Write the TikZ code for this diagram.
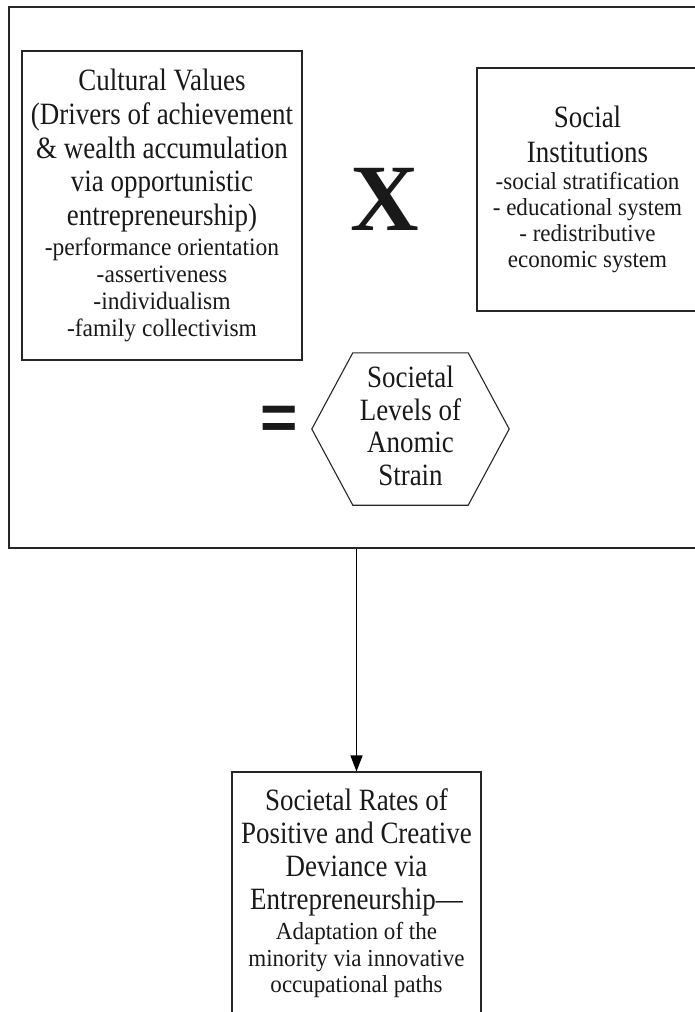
\documentclass[tikz,border=0pt]{standalone}
\usepackage{fontspec}
\setmainfont{Liberation Serif}
\newfontfamily\condserif[FakeStretch=0.87]{Liberation Serif}
\newfontfamily\smserif[FakeStretch=0.94]{Liberation Serif}
\newfontfamily\eqfont{Liberation Sans}
\usetikzlibrary{arrows.meta}
\newcommand\sml[2]{{\smserif\fontsize{#1}{#1}\selectfont #2}}
\tikzset{
  boxline/.style={draw=black!85, line width=1.1pt},
  txt/.style={align=center, inner sep=0pt, text=black!90},
  bigtext/.style={font=\condserif\fontsize{31}{#1}\selectfont},
}
\begin{document}
\begin{tikzpicture}[x=1pt,y=-1pt]
\useasboundingbox (0,0) rectangle (694,1012);
% outer frame
\node[boxline, minimum width=693pt, minimum height=541pt, inner sep=0pt] (frame) at (355.5,277.5) {};
% cultural values
\node[boxline, txt, bigtext=33.75, minimum width=280pt, minimum height=309pt] (cv) at (162,205.5)
 {Cultural Values\\
  (Drivers of achievement\\
  \& wealth accumulation\\
  via opportunistic\\
  entrepreneurship)\\[-3.75pt]
  \sml{25}{-performance orientation}\\[-6.75pt]
  \sml{25}{-assertiveness}\\[-6.75pt]
  \sml{25}{-individualism}\\[-6.75pt]
  \sml{25}{-family collectivism}};
% social institutions
\node[boxline, txt, bigtext=33.75, minimum width=221pt, minimum height=243pt] (si) at (587.5,189.5)
 {Social\\[1.25pt]
  Institutions\\[-6.75pt]
  \sml{24.5}{-social stratification}\\[-7.75pt]
  \sml{24.5}{- educational system}\\[-7.75pt]
  \sml{24.5}{- redistributive}\\[-7.75pt]
  \sml{24.5}{economic system}};
% times sign
\node[txt, font=\rmfamily\bfseries\fontsize{95}{95}\selectfont] (times) at (385,199) {X};
% equals sign
\node[txt, anchor=base, font=\eqfont\bfseries\fontsize{64}{64}\selectfont] (equals) at (279,439) {=};
% hexagon
\node[txt, bigtext=32.5, minimum width=115pt, minimum height=152pt] (hex) at (410.5,429)
 {Societal\\Levels of\\Anomic\\Strain\vphantom{p}};
\draw[boxline] ([xshift=-41pt]hex.west) -- (hex.north west) -- (hex.north east)
  -- ([xshift=41pt]hex.east) -- (hex.south east) -- (hex.south west) -- cycle;
% outcome box
\node[boxline, txt, bigtext=33, minimum width=249pt, minimum height=243pt] (out) at (356.5,893.5)
 {Societal Rates of\\
  Positive and Creative\\
  Deviance via\\
  Entrepreneurship—\\[-3pt]
  \sml{24.5}{Adaptation of the}\\[-6.5pt]
  \sml{24.5}{minority via innovative}\\[-6.5pt]
  \sml{24.5}{occupational paths}};
% arrow
\draw[boxline, draw=black, -{Triangle[length=16pt,width=12pt]}] (frame.south -| out.north) -- (out.north);
\end{tikzpicture}
\end{document}
